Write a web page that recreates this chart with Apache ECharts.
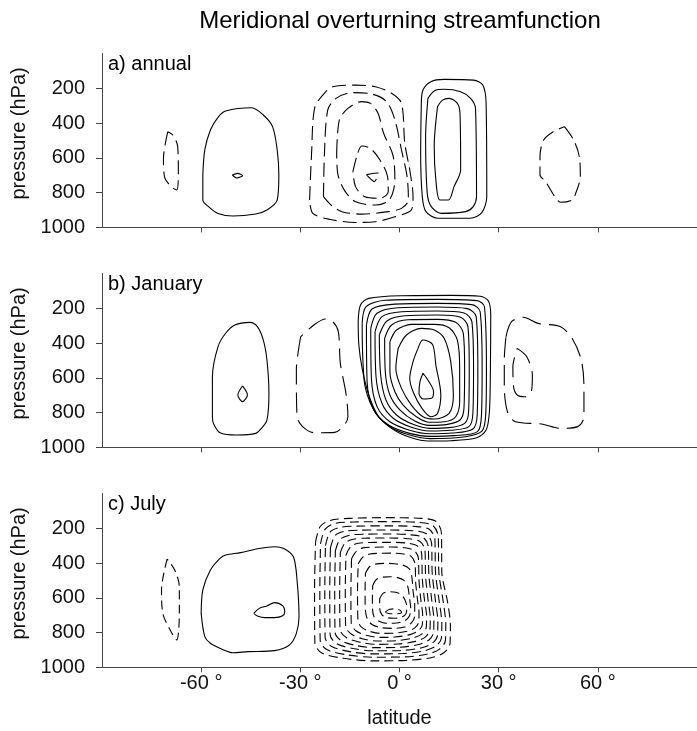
<!DOCTYPE html>
<html>
<head>
<meta charset="utf-8">
<script src="https://cdn.jsdelivr.net/npm/echarts@6/dist/echarts.min.js"></script>
<style>html,body{margin:0;padding:0;background:#fff}#c{width:697px;height:731px}</style>
</head>
<body>
<div id="c"></div>
<script>
// ---------- text / ticks ----------
const mainTitle = 'Meridional overturning streamfunction';
const panelNames = ['a) annual', 'b) January', 'c) July'];
const latTicks = [-60, -30, 0, 30, 60];
const pTicks = [200, 400, 600, 800, 1000];
const xLabel = 'latitude';
const yLabel = 'pressure (hPa)';

// ---------- contours: [latitude, pressure hPa] ----------
// a) annual, positive (solid)
const annualSolid = [
  [[-59.5,699],[-58.9,555],[-57.2,440],[-54.9,367],[-52.6,331],[-44.7,312],[-41.2,354],[-38.4,421],[-37.0,555],[-36.5,699],[-37.0,843],[-40.1,900],[-43.5,923],[-50.4,935],[-54.9,920],[-57.8,881],[-59.5,843]],
  [[-50.6,699],[-49.0,690],[-47.5,703],[-49.2,716]],
  [[6.6,287],[7.1,210],[9.5,162],[13.5,149],[22.4,153],[25.2,181],[26.2,287],[26.4,824],[24.9,916],[21.4,948],[11.5,948],[8.0,910],[6.9,824],[6.4,574]],
  [[8.6,258],[10.6,214],[13.5,206],[18.5,220],[21.5,258],[23.0,316],[23.3,824],[22.3,881],[20.0,910],[12.6,920],[9.6,881],[8.4,805],[7.9,479]],
  [[11.5,306],[13.0,268],[15.0,258],[17.5,287],[18.3,344],[18.5,670],[16.5,766],[14.8,843],[12.2,843],[11.0,728],[10.5,536]]
];
// a) annual, negative (dashed)
const annualDashed = [
  [[-70.1,450],[-71.4,603],[-71.1,709],[-69.1,766],[-67.4,785],[-66.9,690],[-67.1,536],[-68.5,470]],
  [[-27.2,843],[-26.6,574],[-25.7,315],[-23.2,239],[-20.2,191],[-13.3,182],[-7.3,191],[-2.4,229],[0.6,287],[1.6,517],[3.1,670],[4.1,824],[3.6,900],[-1.4,939],[-7.3,968],[-13.3,972],[-21.2,954],[-26.2,920]],
  [[-23.0,824],[-22.7,574],[-21.7,325],[-19.2,258],[-14.3,225],[-8.4,233],[-3.9,277],[-1.4,382],[0.6,555],[2.3,709],[2.7,843],[0.6,891],[-3.4,910],[-11.4,924],[-17.4,910],[-20.7,872]],
  [[-19.0,574],[-18.2,383],[-15.6,316],[-11.6,277],[-8.8,287],[-6.5,344],[-4.8,459],[-2.0,584],[-1.4,728],[-3.1,843],[-7.1,872],[-13.3,853],[-16.7,786],[-18.7,690]],
  [[-14.1,680],[-12.8,584],[-11.4,532],[-8.8,546],[-5.9,613],[-3.6,709],[-3.4,795],[-5.9,833],[-10.5,824],[-13.3,766]],
  [[-10.0,697],[-7.6,737],[-6.4,688],[-8.2,690]],
  [[49.9,421],[52.7,498],[54.4,594],[54.7,709],[53.3,805],[52.2,843],[48.7,856],[47.0,824],[44.2,737],[42.5,699],[42.5,594],[43.6,498],[46.5,450]]
];
// b) January, positive (solid)
const januarySolid = [
  [[-56.6,824],[-56.6,594],[-54.9,421],[-52.6,344],[-49.8,296],[-45.2,281],[-43.0,306],[-41.2,383],[-40.1,498],[-39.5,690],[-40.1,843],[-41.8,891],[-43.5,920],[-49.2,929],[-54.3,916],[-56.3,862]],
  [[-47.5,647],[-46.0,699],[-47.5,737],[-48.9,699]],
  [[-12.5,277],[-11.8,181],[-9.3,143],[0.6,128],[15.5,126],[24.4,131],[26.9,158],[27.6,239],[27.5,546],[27.2,795],[26.2,901],[23.4,945],[15.5,962],[8.6,964],[3.6,945],[-1.4,904],[-6.3,824],[-9.3,699],[-11.3,546],[-12.3,411]],
  [[-11.3,287],[-10.1,191],[-4.3,154],[11.5,149],[23.4,156],[25.7,191],[26.3,546],[26.1,805],[25.0,906],[20.0,939],[9.1,950],[3.4,931],[-2.4,887],[-7.1,805],[-10.3,661],[-11.1,488]],
  [[-10.0,296],[-8.3,204],[-1.4,176],[11.5,172],[21.9,179],[24.4,220],[25.0,546],[24.8,814],[23.6,910],[16.5,933],[9.1,937],[3.1,920],[-3.3,872],[-7.8,785],[-9.8,622]],
  [[-8.7,316],[-6.8,229],[-0.4,197],[11.5,193],[20.5,202],[23.2,248],[23.7,546],[23.5,814],[22.2,895],[16.0,918],[9.1,922],[3.1,902],[-2.9,853],[-6.8,766],[-8.5,603]],
  [[-7.4,335],[-5.3,248],[0.6,220],[11.5,216],[19.5,227],[21.9,277],[22.4,546],[22.2,805],[21.0,881],[15.5,902],[9.1,906],[3.6,885],[-1.9,833],[-5.3,747],[-7.1,594]],
  [[-6.1,354],[-3.8,273],[1.6,243],[11.5,239],[18.5,252],[20.7,306],[21.1,546],[20.9,795],[19.7,862],[15.0,887],[9.1,891],[4.1,868],[-0.9,814],[-4.1,728],[-5.7,584]],
  [[-4.5,373],[-2.4,296],[2.6,266],[11.5,264],[17.0,281],[19.3,344],[19.7,546],[19.5,776],[18.3,843],[14.5,868],[9.1,874],[4.6,849],[0.1,785],[-2.9,699],[-4.3,565]],
  [[-2.9,392],[-0.9,325],[3.6,293],[10.5,293],[15.0,312],[17.5,383],[18.2,546],[18.2,737],[17.0,824],[13.5,853],[9.1,856],[5.1,824],[1.1,757],[-1.4,680],[-2.9,565]],
  [[-0.4,431],[2.1,354],[6.6,316],[10.5,325],[13.5,373],[15.5,507],[16.3,699],[15.0,805],[10.5,837],[7.1,824],[3.6,757],[0.6,661],[-1.1,546]],
  [[5.6,431],[7.1,383],[10.0,408],[11.0,527],[12.5,699],[11.5,805],[9.5,824],[6.8,776],[4.1,680],[3.1,603],[4.1,507]],
  [[7.1,574],[8.6,613],[10.3,680],[9.7,718],[7.1,722],[5.9,690],[6.2,622]]
];
// b) January, negative (dashed)
const januaryDashed = [
  [[-29.9,364],[-31.2,555],[-31.0,824],[-29.3,881],[-25.9,916],[-19.6,914],[-16.7,872],[-15.6,824],[-16.2,690],[-17.9,517],[-18.5,335],[-20.2,277],[-22.4,262],[-25.9,296]],
  [[32.2,364],[33.9,277],[37.4,252],[41.9,287],[48.7,306],[52.2,373],[55.0,498],[55.8,651],[55.8,824],[53.9,881],[48.7,891],[43.0,866],[35.1,853],[32.8,805],[31.7,651],[31.7,498]],
  [[35.6,431],[38.5,479],[40.2,584],[39.9,680],[37.9,709],[35.6,699],[34.5,651],[34.3,536]]
];
// c) July, positive (solid)
const julySolid = [
  [[-60.0,690],[-59.5,555],[-57.2,440],[-54.3,373],[-52.6,354],[-48.1,340],[-42.4,316],[-37.8,306],[-35.0,316],[-32.1,364],[-31.0,498],[-30.4,709],[-31.2,805],[-33.3,872],[-37.8,904],[-45.8,910],[-50.4,916],[-53.2,900],[-57.2,862],[-58.9,824]],
  [[-44.1,690],[-42.4,661],[-40.1,647],[-37.8,628],[-35.3,647],[-34.7,680],[-35.5,705],[-37.8,714],[-40.7,714],[-43.0,705]]
];
// c) July, negative (dashed)
const julyDashed = [
  [[-70.3,377],[-72.0,555],[-71.6,690],[-69.1,795],[-67.4,843],[-66.6,690],[-66.6,536],[-68.0,440]],
  [[-25.4,280],[-24,190],[-21,155],[-15,143],[-4,139],[6.6,143],[11,160],[12.7,229],[12.8,450],[14.5,620],[15.4,760],[15.3,860],[13.5,915],[9.5,945],[2,960],[-8,963],[-17,948],[-23.5,918],[-25.6,860],[-25.7,550]],
  [[-23.9,290],[-22.5,205],[-19.5,172],[-14,164],[-4,162],[5.5,166],[10,183],[11.7,245],[11.9,450],[13.2,620],[14.0,750],[13.9,845],[12,897],[8.2,925],[1.5,940],[-8,942],[-16,928],[-22,898],[-24,845],[-24.1,560]],
  [[-22.4,300],[-21,222],[-18,195],[-13,188],[-4,186],[4.8,190],[9,206],[10.7,265],[10.9,455],[12,620],[12.8,745],[12.7,830],[11,878],[7.5,905],[1,921],[-8,923],[-15,910],[-20.5,880],[-22.5,828],[-22.6,560]],
  [[-20.9,315],[-19.5,242],[-16.5,217],[-12,211],[-4,210],[4,214],[8,230],[9.7,285],[9.9,460],[10.9,620],[11.6,740],[11.5,815],[10,860],[6.8,887],[0.5,903],[-8,905],[-14,892],[-19,864],[-21,812],[-21.1,560]],
  [[-19.4,330],[-18,264],[-15,240],[-11,234],[-3.5,233],[3,237],[7.1,252],[8.7,305],[8.9,470],[9.8,620],[10.4,730],[10.3,800],[8.9,843],[5.8,869],[0,885],[-7.5,887],[-13,875],[-17.6,847],[-19.5,798],[-19.6,560]],
  [[-17.9,340],[-16.5,285],[-14,263],[-10,257],[-3,256],[2.5,260],[6.2,276],[7.7,325],[7.9,480],[8.7,620],[9.3,715],[9.2,785],[7.8,826],[4.8,851],[-0.5,866],[-7,868],[-12,856],[-16,830],[-18,782],[-18.1,560]],
  [[-16.2,355],[-14.8,306],[-12.5,286],[-9,282],[-3,281],[2,285],[5.3,300],[6.7,345],[6.9,490],[7.6,620],[8.2,705],[8.1,770],[6.8,808],[4,832],[-1,847],[-6.5,849],[-11,837],[-14.5,810],[-16.3,765],[-16.4,560]],
  [[-14.5,375],[-13,332],[-11,313],[-7.5,309],[-2.5,308],[1.5,312],[4.4,327],[5.7,370],[5.9,500],[6.5,620],[7.0,695],[6.9,755],[5.7,790],[3.2,812],[-1.5,826],[-6,828],[-10,816],[-13.2,790],[-14.6,745],[-14.7,560]],
  [[-12.5,405],[-11,365],[-9,348],[-6,344],[-2,343],[1.2,348],[3.6,363],[4.7,405],[4.9,515],[5.5,620],[5.9,685],[5.8,740],[4.7,772],[2.3,793],[-2,804],[-6,805],[-9.2,792],[-11.6,768],[-12.6,725],[-12.7,560]],
  [[-10.3,460],[-9,420],[-7,405],[-4.5,402],[-1.5,404],[1,412],[2.9,432],[3.7,475],[4.1,560],[4.6,640],[4.6,705],[3.6,745],[1.5,768],[-2,776],[-5.5,772],[-8.2,755],[-9.8,720],[-10.4,640],[-10.4,530]],
  [[-8.1,530],[-7,495],[-5,481],[-2.8,479],[-0.6,484],[1.3,500],[2.5,535],[3.0,600],[3.4,660],[3.0,705],[1.6,732],[-1,745],[-3.8,747],[-6.2,735],[-7.7,710],[-8.2,650],[-8.2,580]],
  [[-6.0,605],[-5,575],[-3.2,565],[-1.2,568],[0.6,583],[1.6,610],[2.2,650],[2.0,690],[0.8,710],[-1.5,718],[-3.8,714],[-5.3,698],[-6.0,660]],
  [[-4.3,683],[-3,666],[-1.2,664],[0.2,672],[0.6,685],[-0.8,692],[-2.8,692]]
];

const panels = [
  { solid: annualSolid, dashed: annualDashed, dash: [14, 6] },
  { solid: januarySolid, dashed: januaryDashed, dash: [20, 8] },
  { solid: julySolid, dashed: julyDashed, dash: [9, 5] }
];

// ---------- chart ----------
const FONT = '"Liberation Sans", Arial, Helvetica, sans-serif';
const TXT = '#111';
const AX = '#444';
const FS = 20;
const gridTops = [53.5, 273.5, 493.5];
const chart = echarts.init(document.getElementById('c'), null, { renderer: 'canvas' });

const grid = gridTops.map(t => ({ left: 102, top: t, width: 605, height: 173.8, containLabel: false }));
const xAxis = gridTops.map((t, i) => ({
  gridIndex: i, type: 'value', min: -90, max: 90, interval: 30,
  axisLine: { show: true, onZero: false, lineStyle: { color: AX, width: 1 } },
  axisTick: { show: true, inside: false, length: 5, customValues: latTicks, lineStyle: { color: AX } },
  axisLabel: {
    show: i === 2, customValues: latTicks, margin: 6, color: TXT, fontSize: FS, fontFamily: FONT,
    formatter: v => String(v) + ' °'
  },
  splitLine: { show: false },
  name: i === 2 ? xLabel : '', nameLocation: 'middle', nameGap: 41,
  nameTextStyle: { color: TXT, fontSize: FS, fontFamily: FONT }
}));
const yAxis = gridTops.map((t, i) => ({
  gridIndex: i, type: 'value', min: 0, max: 1000, inverse: true,
  axisLine: { show: true, onZero: false, lineStyle: { color: AX, width: 1 } },
  axisTick: { show: true, inside: false, length: 6, customValues: pTicks, lineStyle: { color: AX } },
  axisLabel: { customValues: pTicks, margin: 17, color: TXT, fontSize: FS, fontFamily: FONT, formatter: v => String(v) },
  splitLine: { show: false },
  name: yLabel, nameLocation: 'middle', nameGap: 66, nameRotate: 90,
  nameTextStyle: { color: TXT, fontSize: FS, fontFamily: FONT, padding: [0, 0, 0, 14] }
}));

const series = [];
panels.forEach((pn, i) => {
  const add = (list, type) => list.forEach(c => {
    series.push({
      type: 'line', xAxisIndex: i, yAxisIndex: i,
      data: c.concat([c[0]]), showSymbol: false, symbol: 'none',
      smooth: 0.3, silent: true, animation: false, clip: true,
      lineStyle: { color: '#000', width: 1.1, type: type }
    });
  });
  add(pn.solid, 'solid');
  add(pn.dashed, pn.dash);
});

const graphic = [
  { type: 'text', x: 400, y: 21, style: { text: mainTitle, fontSize: 24, fontFamily: FONT, fill: '#000', textAlign: 'center', textVerticalAlign: 'middle', align: 'center', verticalAlign: 'middle' } }
].concat(panelNames.map((n, i) => ({
  type: 'text', x: 108, y: gridTops[i] + 11, style: { text: n, fontSize: FS, fontFamily: FONT, fill: '#000', textAlign: 'left', textVerticalAlign: 'middle', align: 'left', verticalAlign: 'middle' }
})));

chart.setOption({ animation: false, backgroundColor: '#fff', grid, xAxis, yAxis, series, graphic });
</script>
</body>
</html>
